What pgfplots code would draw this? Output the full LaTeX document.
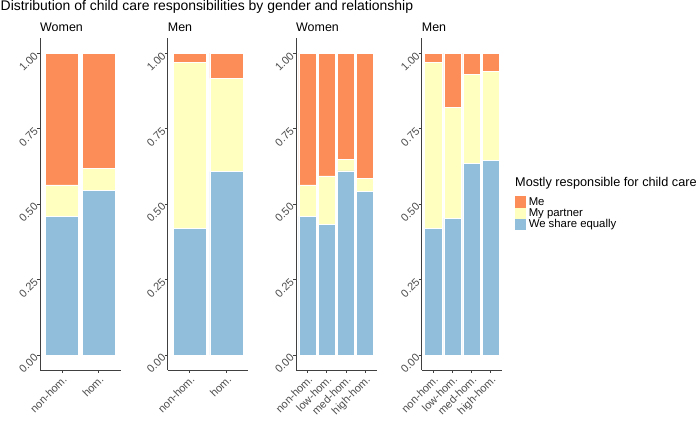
\documentclass[border=0pt]{standalone}
\usepackage{pgfplots}
\pgfplotsset{compat=1.18}
\usepackage{fontspec}
\setmainfont{Liberation Sans}
\definecolor{cme}{HTML}{FC8D59}
\definecolor{cpart}{HTML}{FFFFBF}
\definecolor{cshare}{HTML}{91BFDB}
\definecolor{axgrey}{HTML}{4D4D4D}
\pgfplotsset{
  panel/.style={
    scale only axis, width=80.6bp, height=332bp, anchor=south west,
    ybar stacked, bar width=0.9,
    ymin=-0.05, ymax=1.05,
    axis x line*=bottom, axis y line*=left,
    axis line style={-, black!75, line width=0.6bp},
    tick align=outside, major tick length=3bp,
    tick style={black!75, line width=0.6bp},
    ytick={0,0.25,0.5,0.75,1},
    yticklabels={0.00,0.25,0.50,0.75,1.00},
    xtick=data,
    tick label style={font=\fontsize{11}{13}\selectfont, text=axgrey},
    y tick label style={rotate=45, anchor=east, inner sep=1.2bp},
    x tick label style={rotate=45, anchor=north east, inner sep=1.2bp},
    every axis title shift=0pt,
    title style={at={(0,1)}, anchor=base west, yshift=6.6bp, inner sep=0pt, font=\fontsize{12.5}{15}\selectfont},
    every axis plot/.append style={draw=white, line width=0.5bp},
  },
}
\begin{document}
\begin{tikzpicture}
\useasboundingbox (0,0) rectangle (699bp,422bp);
\node[anchor=base west, inner sep=0pt, font=\fontsize{14}{17}\selectfont] at (0.5bp,411.5bp) {Distribution of child care responsibilities by gender and relationship};
% Panel 1
\begin{axis}[panel, at={(40bp,52bp)}, xmin=0.4, xmax=2.6, xticklabels={non-hom.,hom.}, title={Women}]
\addplot[fill=cshare] coordinates {(1,0.459) (2,0.546)};
\addplot[fill=cpart] coordinates {(1,0.104) (2,0.071)};
\addplot[fill=cme] coordinates {(1,0.437) (2,0.383)};
\end{axis}
% Panel 2
\begin{axis}[panel, at={(167.7bp,52bp)}, xmin=0.4, xmax=2.6, xticklabels={non-hom.,hom.}, title={Men}]
\addplot[fill=cshare] coordinates {(1,0.419) (2,0.607)};
\addplot[fill=cpart] coordinates {(1,0.550) (2,0.309)};
\addplot[fill=cme] coordinates {(1,0.031) (2,0.084)};
\end{axis}
% Panel 3
\begin{axis}[panel, at={(296bp,52bp)}, xmin=0.4, xmax=4.6, xticklabels={non-hom.,low-hom.,med-hom.,high-hom.}, title={Women}]
\addplot[fill=cshare] coordinates {(1,0.459) (2,0.432) (3,0.610) (4,0.541)};
\addplot[fill=cpart] coordinates {(1,0.104) (2,0.161) (3,0.037) (4,0.043)};
\addplot[fill=cme] coordinates {(1,0.437) (2,0.407) (3,0.353) (4,0.416)};
\end{axis}
% Panel 4
\begin{axis}[panel, at={(421.7bp,52bp)}, xmin=0.4, xmax=4.6, xticklabels={non-hom.,low-hom.,med-hom.,high-hom.}, title={Men},
  reverse legend,
  legend cell align=left,
  legend style={at={(1.152,0.524)}, anchor=north west, draw=none, fill=none, inner sep=0pt, row sep=0pt,
    column sep=0pt,
    font=\fontsize{11.4}{13}\selectfont,
    nodes={inner ysep=0pt, inner xsep=3bp, minimum height=11.3bp}},
  legend image code/.code={\path[#1, draw=none] (-3bp,-5.65bp) rectangle (8bp,5.65bp);},
]
\addplot[fill=cshare] coordinates {(1,0.419) (2,0.453) (3,0.634) (4,0.645)};
\addplot[fill=cpart] coordinates {(1,0.550) (2,0.366) (3,0.296) (4,0.295)};
\addplot[fill=cme] coordinates {(1,0.031) (2,0.181) (3,0.070) (4,0.060)};
\legend{We share equally, My partner, Me}
\end{axis}
\node[anchor=base west, inner sep=0pt, font=\fontsize{12.75}{15}\selectfont] at (515bp,235.3bp) {Mostly responsible for child care};
\end{tikzpicture}
\end{document}
